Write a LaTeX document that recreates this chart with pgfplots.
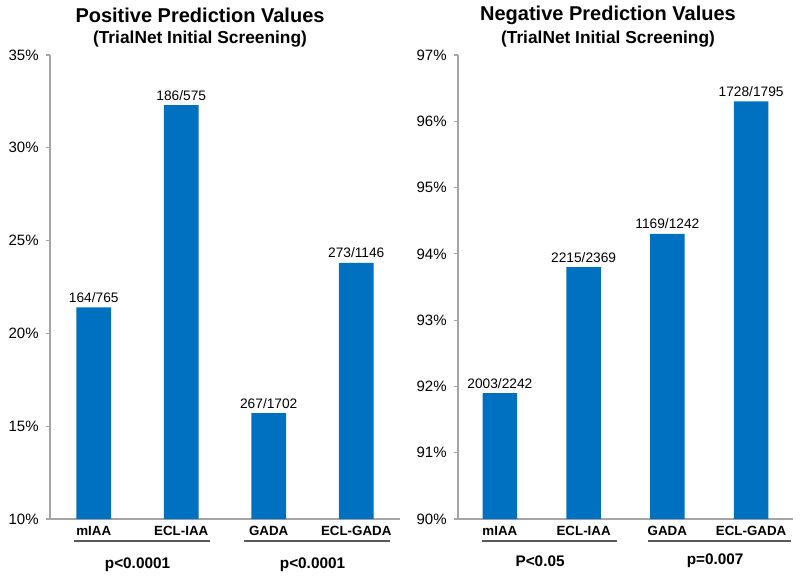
\documentclass[border=0pt]{standalone}
\usepackage{pgfplots}
\pgfplotsset{compat=1.18}
\usepackage{fontspec}
\setmainfont{Liberation Sans}
\definecolor{barblue}{RGB}{0,112,192}
\definecolor{axgray}{RGB}{165,165,165}
\definecolor{linegray}{RGB}{90,90,90}
\pgfplotsset{
  mystyle/.style={
    scale only axis, height=348pt,
    axis x line*=bottom, axis y line*=left,
    axis line style={draw=axgray, line width=0.8pt},
    ybar, bar width=26pt,
    xmin=-0.5, xmax=3.5, xtick={0,1,2,3},
    xticklabels={mIAA,ECL-IAA,GADA,ECL-GADA},
    x tick style={draw=none},
    y tick style={draw=axgray, line width=0.8pt},
    tick align=outside, major tick length=3pt,
    y tick label style={font=\fontsize{11.25}{13}\selectfont, xshift=-2pt},
    x tick label style={font=\bfseries\fontsize{10}{12}\selectfont, anchor=base, yshift=-9.5pt},
    /pgf/number format/assume math mode=true,
    yticklabel={\pgfmathprintnumber{\tick}\%},
    nodes near coords, point meta=explicit symbolic,
    every node near coord/.append style={font=\fontsize{10.3}{12}\selectfont, anchor=base, yshift=3.75pt},
    clip=false,
  }
}
\begin{document}
\begin{tikzpicture}
\useasboundingbox (0,0) rectangle (600pt,434.25pt);
\node[font=\bfseries\fontsize{15}{18}\selectfont] at (150pt,423pt) {Positive Prediction Values};
\node[font=\bfseries\fontsize{13}{16}\selectfont] at (150pt,405pt) {(TrialNet Initial Screening)};
\node[font=\bfseries\fontsize{15}{18}\selectfont] at (456pt,423pt) {Negative Prediction Values};
\node[font=\bfseries\fontsize{13}{16}\selectfont] at (456pt,405pt) {(TrialNet Initial Screening)};

\begin{axis}[mystyle, at={(37.5pt,45pt)}, anchor=south west, width=262.5pt,
  ymin=10, ymax=35, ytick={10,15,20,25,30,35}]
\addplot[fill=barblue, draw=none] table[meta=label] {
x y label
0 21.4 164/765
1 32.3 186/575
2 15.7 267/1702
3 23.8 273/1146
};
\draw[linegray, line width=0.8pt] ([yshift=-16.5pt]axis cs:-0.23,10) -- ([yshift=-16.5pt]axis cs:1.33,10);
\draw[linegray, line width=0.8pt] ([yshift=-16.5pt]axis cs:1.72,10) -- ([yshift=-16.5pt]axis cs:3.38,10);
\node[font=\bfseries\fontsize{11.5}{14}\selectfont] at ([yshift=-34pt]axis cs:0.5,10) {p<0.0001};
\node[font=\bfseries\fontsize{11.5}{14}\selectfont] at ([yshift=-34pt]axis cs:2.5,10) {p<0.0001};
\end{axis}

\begin{axis}[mystyle, at={(343.5pt,45pt)}, anchor=south west, width=251.25pt,
  ymin=90, ymax=97, ytick={90,91,92,93,94,95,96,97}]
\addplot[fill=barblue, draw=none] table[meta=label] {
x y label
0 91.9 2003/2242
1 93.8 2215/2369
2 94.3 1169/1242
3 96.3 1728/1795
};
\draw[linegray, line width=0.8pt] ([yshift=-16.5pt]axis cs:-0.21,90) -- ([yshift=-16.5pt]axis cs:1.40,90);
\draw[linegray, line width=0.8pt] ([yshift=-16.5pt]axis cs:1.77,90) -- ([yshift=-16.5pt]axis cs:3.48,90);
\node[font=\bfseries\fontsize{11.5}{14}\selectfont] at ([yshift=-31.5pt]axis cs:0.48,90) {P<0.05};
\node[font=\bfseries\fontsize{11.5}{14}\selectfont] at ([yshift=-31.5pt]axis cs:2.57,90) {p=0.007};
\end{axis}
\end{tikzpicture}
\end{document}
